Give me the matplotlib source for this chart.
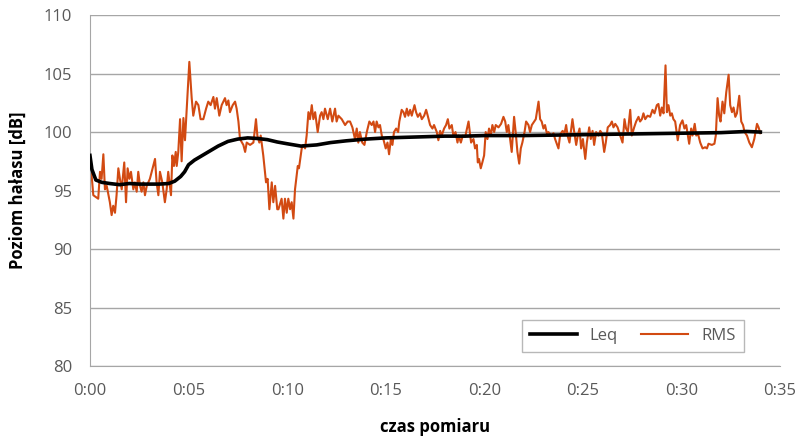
import matplotlib.pyplot as plt
from matplotlib.ticker import FuncFormatter

# RMS trace (time in minutes, level in dB)
rms_t = [0.00, 0.17, 0.42, 0.51, 0.59, 0.68, 0.76, 0.85, 1.01, 1.10, 1.18, 1.27, 1.35, 1.44, 1.52,
         1.61, 1.74, 1.83, 1.91, 2.00, 2.08, 2.20, 2.28, 2.37, 2.45, 2.54, 2.62, 2.71, 2.79, 2.88,
         3.04, 3.13, 3.30, 3.38, 3.47, 3.55, 3.67, 3.80, 3.89, 3.97, 4.11, 4.18, 4.26, 4.35, 4.40,
         4.48, 4.57, 4.65, 4.74, 4.82, 5.04, 5.16, 5.24, 5.38, 5.50, 5.61, 5.75, 5.89, 6.00, 6.12,
         6.26, 6.34, 6.43, 6.56, 6.68, 6.85, 6.93, 7.02, 7.10, 7.24, 7.36, 7.44, 7.53, 7.61, 7.78,
         7.87, 7.95, 8.12, 8.29, 8.42, 8.49, 8.59, 8.66, 8.79, 8.93, 9.01, 9.10, 9.22, 9.30, 9.39,
         9.50, 9.56, 9.72, 9.81, 9.89, 9.98, 10.06, 10.15, 10.23, 10.32, 10.40, 10.54, 10.60, 10.74,
         10.82, 10.91, 10.99, 11.08, 11.16, 11.25, 11.33, 11.42, 11.55, 11.67, 11.75, 11.84, 11.92,
         12.06, 12.18, 12.29, 12.43, 12.51, 12.60, 12.77, 12.94, 13.07, 13.19, 13.31, 13.44, 13.53,
         13.61, 13.69, 13.81, 13.92, 14.04, 14.17, 14.29, 14.38, 14.46, 14.54, 14.63, 14.71, 14.80,
         14.88, 15.00, 15.09, 15.17, 15.26, 15.34, 15.42, 15.53, 15.63, 15.69, 15.81, 15.90, 15.98,
         16.07, 16.15, 16.24, 16.32, 16.46, 16.54, 16.63, 16.74, 16.83, 16.95, 17.05, 17.13, 17.25,
         17.37, 17.45, 17.59, 17.67, 17.76, 17.84, 17.96, 18.06, 18.15, 18.23, 18.35, 18.43, 18.54,
         18.64, 18.70, 18.81, 18.91, 19.03, 19.20, 19.33, 19.45, 19.53, 19.62, 19.67, 19.73, 19.82,
         19.90, 19.99, 20.07, 20.16, 20.24, 20.33, 20.41, 20.50, 20.58, 20.72, 20.85, 20.97, 21.06,
         21.14, 21.22, 21.31, 21.39, 21.51, 21.59, 21.68, 21.77, 21.85, 21.93, 22.04, 22.12, 22.24,
         22.32, 22.41, 22.53, 22.61, 22.75, 22.83, 22.91, 23.00, 23.08, 23.17, 23.25, 23.39, 23.51,
         23.59, 23.70, 23.76, 23.85, 23.97, 24.07, 24.15, 24.22, 24.32, 24.47, 24.56, 24.66, 24.74,
         24.83, 24.91, 25.00, 25.12, 25.20, 25.32, 25.40, 25.49, 25.57, 25.67, 25.79, 25.88, 25.96,
         26.08, 26.16, 26.26, 26.38, 26.47, 26.55, 26.64, 26.76, 26.89, 27.01, 27.11, 27.19, 27.28,
         27.40, 27.48, 27.60, 27.70, 27.82, 27.90, 27.99, 28.07, 28.16, 28.28, 28.41, 28.53, 28.63,
         28.75, 28.83, 28.92, 29.00, 29.09, 29.19, 29.26, 29.34, 29.43, 29.51, 29.59, 29.68, 29.81,
         29.93, 30.05, 30.15, 30.24, 30.39, 30.49, 30.56, 30.67, 30.75, 30.83, 30.95, 31.07, 31.20,
         31.29, 31.37, 31.54, 31.67, 31.74, 31.83, 31.91, 31.98, 32.08, 32.17, 32.27, 32.39, 32.47,
         32.56, 32.64, 32.73, 32.81, 32.93, 33.03, 33.12, 33.20, 33.32, 33.44, 33.57, 33.69, 33.83,
         33.91, 34.00]
rms_db = [98.0, 94.6, 94.3, 96.6, 96.0, 98.1, 95.1, 95.4, 94.0, 92.9, 93.7, 93.1, 94.6, 96.9, 96.0,
          95.1, 97.4, 94.0, 96.9, 96.0, 96.6, 95.1, 95.7, 94.9, 96.6, 95.4, 94.9, 95.7, 94.6, 95.4,
          96.0, 96.6, 97.7, 95.7, 94.6, 96.6, 95.7, 94.0, 95.1, 96.6, 94.6, 98.0, 97.1, 98.3, 97.1,
          98.3, 101.1, 97.5, 101.2, 99.3, 106.0, 102.9, 101.4, 102.6, 102.3, 101.1, 101.1, 102.0, 102.6, 102.3,
          103.0, 102.0, 102.9, 101.4, 102.3, 102.9, 102.3, 102.7, 101.7, 102.3, 102.6, 102.0, 100.9, 99.4, 98.9,
          98.3, 99.1, 98.9, 99.1, 101.1, 99.7, 99.1, 99.7, 98.0, 95.7, 96.0, 93.4, 95.7, 94.0, 95.4,
          93.4, 93.4, 94.3, 92.6, 94.3, 93.1, 94.3, 93.4, 94.0, 92.6, 95.1, 97.1, 96.9, 98.6,
          98.9, 98.6, 99.7, 101.7, 101.1, 102.3, 101.1, 101.7, 100.0, 101.4, 101.7, 101.1, 102.0,
          101.1, 102.0, 100.9, 102.0, 100.9, 101.4, 101.1, 100.6, 100.9, 100.9, 100.4, 99.4, 100.3,
          99.1, 100.0, 99.1, 98.9, 100.0, 100.9, 100.6, 100.9, 100.0, 100.9, 100.4, 100.6, 99.7,
          99.4, 98.6, 99.1, 98.1, 99.4, 98.9, 100.0, 100.3, 100.0, 100.9, 101.9, 101.7, 101.3,
          102.0, 101.4, 101.9, 101.4, 102.3, 101.7, 101.3, 101.6, 101.1, 101.4, 101.9, 101.4, 100.6,
          100.3, 100.6, 100.0, 99.3, 100.1, 99.7, 100.3, 100.6, 101.1, 100.3, 100.6, 99.7, 100.0,
          99.1, 99.7, 99.1, 99.7, 99.6, 100.9, 99.1, 99.4, 98.6, 98.9, 97.4, 97.7, 96.9,
          97.4, 98.0, 100.0, 99.4, 100.3, 99.7, 100.6, 100.0, 100.6, 100.4, 100.7, 101.3, 100.9,
          100.0, 100.6, 99.4, 98.3, 101.3, 100.0, 98.3, 97.3, 98.6, 99.1, 100.0, 100.9, 100.6,
          100.0, 100.6, 100.9, 101.1, 102.6, 101.1, 100.9, 100.3, 100.6, 99.9, 100.0, 99.7, 99.9,
          99.4, 98.9, 98.6, 99.8, 100.1, 99.9, 100.6, 99.7, 99.1, 101.1, 100.0, 98.9, 99.7,
          100.3, 98.6, 99.4, 97.7, 99.1, 100.4, 99.4, 100.1, 98.9, 100.0, 99.7, 100.1, 99.9,
          98.3, 99.1, 100.4, 100.6, 100.9, 100.4, 100.7, 100.4, 99.7, 99.1, 101.1, 100.3, 100.0,
          101.9, 99.7, 100.4, 100.9, 101.3, 100.9, 101.1, 101.6, 101.1, 101.4, 101.3, 101.9, 101.6,
          102.3, 102.4, 101.4, 102.1, 101.6, 105.7, 101.7, 102.3, 101.4, 101.6, 101.1, 100.9, 99.3,
          100.6, 101.0, 100.3, 100.6, 99.0, 100.3, 99.7, 100.7, 99.7, 99.9, 99.1, 98.6, 98.7,
          98.6, 99.0, 98.9, 99.0, 99.7, 102.9, 101.4, 100.9, 102.6, 101.6, 103.4, 104.9, 102.3,
          101.7, 102.1, 101.3, 101.6, 103.1, 100.9, 100.6, 100.0, 99.7, 99.1, 98.7, 99.4, 100.7,
          100.4, 99.9]

# Leq (smooth running equivalent level)
leq_t = [0.0, 0.1, 0.3, 0.6, 1.0, 1.5, 2.0, 2.5, 3.0, 3.5, 4.0, 4.3, 4.6, 4.8, 5.0, 5.3, 5.6,
         6.0, 6.5, 7.0, 7.5, 8.0, 8.5, 9.0, 9.5, 10.0, 10.7, 11.5, 12.2, 13.0, 14.0, 15.0, 16.0,
         17.0, 18.0, 19.0, 20.0, 22.0, 24.0, 26.0, 28.0, 30.0, 32.0, 33.3, 34.0]
leq_db = [98.0, 96.8, 95.9, 95.7, 95.6, 95.5, 95.6, 95.55, 95.55, 95.55, 95.6, 95.8, 96.2, 96.6,
          97.2, 97.6, 97.9, 98.3, 98.8, 99.2, 99.4, 99.5, 99.45, 99.35, 99.15, 99.0, 98.8, 98.9,
          99.1, 99.25, 99.4, 99.5, 99.55, 99.6, 99.65, 99.65, 99.7, 99.7, 99.75, 99.8, 99.85,
          99.9, 99.95, 100.05, 100.0]

x_ticks = [0, 5, 10, 15, 20, 25, 30, 35]
y_ticks = [80, 85, 90, 95, 100, 105, 110]

plt.rcParams["font.family"] = ["Open Sans", "DejaVu Sans"]
label_grey = "#595959"
grid_grey = "#a6a6a6"

fig = plt.figure(figsize=(7.96, 4.37), dpi=100, facecolor="w")
ax = fig.add_axes([0.113, 0.1625, 0.867, 0.803])

ax.plot(leq_t, leq_db, color="black", lw=2.6, label="Leq", zorder=3)
ax.plot(rms_t, rms_db, color="#d24a12", lw=1.5, label="RMS", zorder=2)

ax.set_xlim(0, 35)
ax.set_ylim(80, 110)
ax.set_xticks(x_ticks)
ax.set_yticks(y_ticks)
ax.xaxis.set_major_formatter(FuncFormatter(lambda v, p: "0:%02d" % int(round(v))))
ax.tick_params(length=0, labelsize=12, labelcolor=label_grey)
ax.tick_params(axis="y", pad=13)
ax.tick_params(axis="x", pad=12)

ax.grid(axis="y", color=grid_grey, lw=1)
ax.set_axisbelow(True)
for side in ["top", "right"]:
    ax.spines[side].set_visible(False)
for side in ["left", "bottom"]:
    ax.spines[side].set_color(grid_grey)

ax.set_xlabel("czas pomiaru", fontsize=12, fontweight="bold", labelpad=14)
ax.set_ylabel("Poziom hałasu [dB]", fontsize=12, fontweight="bold", labelpad=12)

leg = ax.legend(loc="lower right", ncol=2, frameon=True, fancybox=False, fontsize=12,
                handlelength=2.8, columnspacing=1.4, borderpad=0.5,
                bbox_to_anchor=(0.96, 0.015), labelcolor=label_grey)
leg.get_frame().set_edgecolor(grid_grey)
leg.get_frame().set_linewidth(1)

fig.savefig("out.png", dpi=100)
